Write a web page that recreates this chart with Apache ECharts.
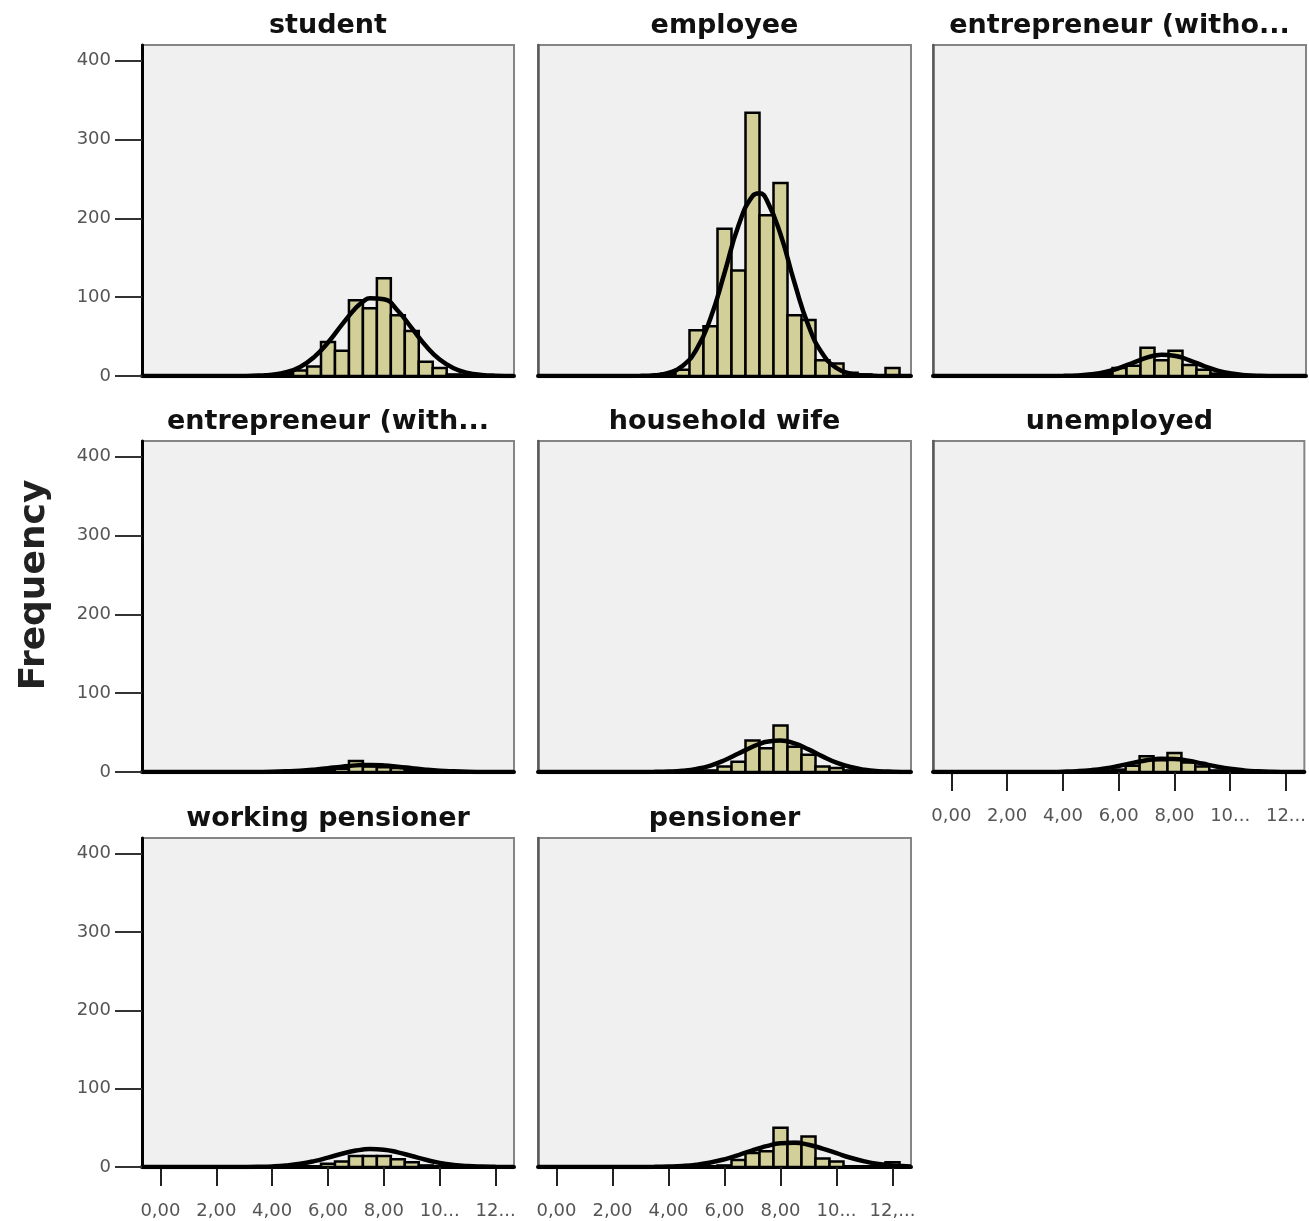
<!DOCTYPE html>
<html>
<head>
<meta charset="utf-8">
<script src="https://cdn.jsdelivr.net/npm/echarts@6/dist/echarts.min.js"></script>
<style>
  html, body { margin: 0; padding: 0; background: #fff; }
  #chart { width: 1309px; height: 1221px; }
</style>
</head>
<body>
<div id="chart"></div>
<script>
// panel titles (as truncated in the original)
const panelNames = ['student', 'employee', 'entrepreneur (witho...', 'entrepreneur (with...',
  'household wife', 'unemployed', 'working pensioner', 'pensioner']

// histogram bins (width 0.5)
const binWidth = 0.5
const binCenters = [4.0, 4.5, 5.0, 5.5, 6.0, 6.5, 7.0, 7.5, 8.0, 8.5, 9.0, 9.5, 10.0, 10.5, 11.0, 11.5, 12.0]

const studentCounts      = [2, 3, 7, 12, 43, 32, 96, 86, 124, 77, 57, 18, 10, 2, 0, 0, 0]
const employeeCounts     = [3, 8, 58, 63, 187, 134, 334, 204, 245, 77, 71, 20, 16, 4, 2, 0, 10]
const entrWithoutCounts  = [0, 0, 0, 3, 10, 13, 36, 20, 32, 14, 8, 3, 0, 0, 0, 0, 0]
const entrWithCounts     = [0, 0, 0, 0, 2, 4, 14, 7, 6, 5, 3, 1, 0, 0, 0, 0, 0]
const householdCounts    = [0, 0, 0, 2, 7, 13, 40, 30, 59, 32, 22, 7, 5, 2, 0, 0, 0]
const unemployedCounts   = [0, 0, 0, 0, 3, 8, 20, 15, 24, 12, 7, 2, 0, 0, 0, 0, 0]
const workPensionCounts  = [0, 0, 0, 0, 4, 7, 14, 14, 14, 10, 6, 2, 0, 0, 0, 0, 0]
const pensionerCounts    = [0, 0, 0, 0, 2, 9, 18, 20, 50, 32, 39, 11, 7, 0, 0, 0, 6]

// normal curves
const curveX = [-0.66, 2.0, 3.0, 3.5, 4.0, 4.5, 5.0, 5.5, 6.0, 6.5, 7.0, 7.25, 7.5, 8.0, 8.5, 9.0, 9.5, 10.0, 10.5, 11.0, 11.5, 12.0, 12.66]
const studentCurve     = [0, 0, 0.1, 0.5, 1.7, 4.8, 11.5, 23.9, 42.5, 65.3, 86.5, 94.2, 98.8, 97.4, 82.8, 60.7, 38.3, 20.9, 9.8, 4.0, 1.4, 0.4, 0.1]
const employeeCurve    = [0, 0, 0.2, 1.0, 3.9, 12.7, 33.7, 73.3, 130.7, 190.9, 228.3, 231.8, 223.8, 179.8, 118.3, 63.8, 28.2, 10.2, 3.0, 0.7, 0.15, 0, 0]
const entrWithoutCurve = [0, 0, 0, 0.1, 0.2, 0.7, 2.1, 5.1, 10.3, 17.1, 23.6, 25.8, 26.9, 25.4, 19.9, 12.9, 6.9, 3.1, 1.1, 0.3, 0.1, 0, 0]
const entrWithCurve    = [0, 0, 0, 0.1, 0.3, 0.8, 1.6, 3.0, 4.9, 6.8, 8.4, 8.85, 9.0, 8.4, 6.8, 4.9, 3.0, 1.6, 0.8, 0.3, 0.1, 0, 0]
const householdCurve   = [0, 0, 0.1, 0.2, 0.6, 1.7, 4.0, 8.2, 14.9, 23.4, 32.0, 35.6, 38.3, 39.9, 36.2, 28.7, 19.8, 11.9, 6.3, 2.9, 1.1, 0.4, 0.1]
const unemployedCurve  = [0, 0, 0, 0.1, 0.4, 1.0, 2.3, 4.5, 7.7, 11.5, 14.9, 16.1, 16.8, 16.6, 14.3, 10.7, 7.0, 4.0, 2.0, 0.9, 0.3, 0.1, 0]
const workPensionCurve = [0, 0, 0.1, 0.3, 0.8, 2.0, 4.1, 7.5, 12.0, 16.9, 21.0, 22.3, 22.9, 22.1, 18.7, 14.0, 9.2, 5.3, 2.7, 1.2, 0.5, 0.2, 0]
const pensionerCurve   = [0, 0, 0.1, 0.2, 0.6, 1.4, 3.0, 5.7, 9.8, 15.2, 21.2, 24.1, 26.7, 30.2, 30.9, 28.4, 23.5, 17.6, 11.8, 7.2, 3.9, 1.9, 0.6]

// axis ticks
const yTicks = [0, 100, 200, 300, 400]
const xTicks = [0, 2, 4, 6, 8, 10, 12]
const xTickLabels = ['0,00', '2,00', '4,00', '6,00', '8,00', '10...', '12...']
const xTickLabelsPensioner = ['0,00', '2,00', '4,00', '6,00', '8,00', '10...', '12,...']

const allCounts = [studentCounts, employeeCounts, entrWithoutCounts, entrWithCounts,
  householdCounts, unemployedCounts, workPensionCounts, pensionerCounts]
const allCurves = [studentCurve, employeeCurve, entrWithoutCurve, entrWithCurve,
  householdCurve, unemployedCurve, workPensionCurve, pensionerCurve]

const colLeft = [142, 538, 933]
const colWidth = [372, 373, 373]
const rowTop = [45, 441, 838]
const rowHeight = [331, 331, 329]

const chart = echarts.init(document.getElementById('chart'))

const grids = [], xAxes = [], yAxes = [], series = [], titles = []

panelNames.forEach((name, i) => {
  const row = Math.floor(i / 3)
  const col = i % 3
  const showY = col === 0
  const showX = i >= 5
  const labels = i === 7 ? xTickLabelsPensioner : xTickLabels

  grids.push({
    left: colLeft[col], top: rowTop[row], width: colWidth[col], height: rowHeight[row],
    show: true, backgroundColor: '#f0f0f0', borderColor: '#858585', borderWidth: 2
  })

  titles.push({
    text: name,
    left: colLeft[col] + colWidth[col] / 2,
    top: rowTop[row] - 33,
    textAlign: 'center',
    padding: 0,
    textStyle: { fontFamily: 'DejaVu Sans', fontWeight: 'bold', fontSize: 27, color: '#111' }
  })

  xAxes.push({
    gridIndex: i, type: 'value', min: -0.66, max: 12.66,
    splitLine: { show: false },
    axisLine: { show: true, onZero: false, lineStyle: { color: '#000', width: 4 } },
    axisTick: { show: showX, length: 19, customValues: xTicks, lineStyle: { color: '#222', width: 2 } },
    axisLabel: {
      show: showX, customValues: xTicks, margin: 35,
      fontFamily: 'DejaVu Sans', fontSize: 18, color: '#555',
      formatter: v => labels[xTicks.indexOf(Math.round(v))] ?? ''
    }
  })

  yAxes.push({
    gridIndex: i, type: 'value', min: 0, max: 420,
    splitLine: { show: false },
    axisLine: { show: true, onZero: false, lineStyle: { color: showY ? '#000' : '#5a5a5a', width: showY ? 3 : 2.5 } },
    axisTick: { show: showY, length: 27, customValues: yTicks, lineStyle: { color: '#333', width: 2 } },
    axisLabel: {
      show: showY, customValues: yTicks, margin: 31,
      fontFamily: 'DejaVu Sans', fontSize: 18, color: '#555'
    }
  })

  const barData = binCenters
    .map((c, k) => [c, allCounts[i][k]])
    .filter(d => d[1] > 0)

  series.push({
    type: 'custom',
    xAxisIndex: i, yAxisIndex: i,
    clip: true,
    encode: { x: 0, y: 1 },
    data: barData,
    renderItem: (params, api) => {
      const c = api.value(0)
      const v = api.value(1)
      const p0 = api.coord([c - binWidth / 2, 0])
      const p1 = api.coord([c + binWidth / 2, v])
      return {
        type: 'rect',
        shape: { x: p0[0], y: p1[1], width: p1[0] - p0[0], height: p0[1] - p1[1] },
        style: { fill: '#d3cf99', stroke: '#000', lineWidth: 2.5 }
      }
    },
    z: 2
  })

  series.push({
    type: 'line',
    xAxisIndex: i, yAxisIndex: i,
    data: curveX.map((x, k) => [x, allCurves[i][k]]),
    smooth: 0.5,
    showSymbol: false,
    clip: true,
    lineStyle: { color: '#000', width: 4.5 },
    z: 3
  })
})

chart.setOption({
  animation: false,
  title: titles,
  grid: grids,
  xAxis: xAxes,
  yAxis: yAxes,
  series: series,
  graphic: [{
    type: 'text',
    x: 35, y: 585,
    rotation: Math.PI / 2,
    style: {
      text: 'Frequency',
      font: 'bold 36px "DejaVu Sans"',
      fill: '#222',
      align: 'center',
      verticalAlign: 'middle'
    }
  }]
})
</script>
</body>
</html>
